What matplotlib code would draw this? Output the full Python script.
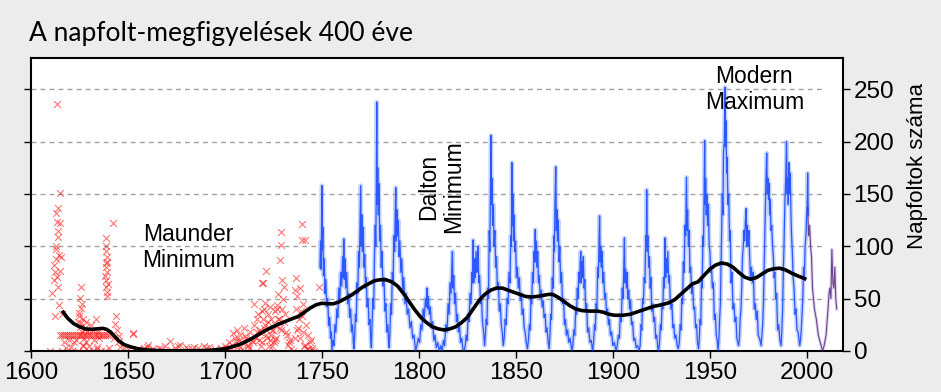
import numpy as np
import matplotlib.pyplot as plt

# ── Colours ─────────────────────────────────────────────────────────────
BG = "#ececec"
RED = "#ff1a1a"
BLUE_CORE = "#1a4cff"
BLUE_HALO = "#7f9dff"
PURPLE = "#5b2d86"
GRID = "#a0a0a0"

early_years = [
    1610, 1611, 1612, 1613, 1613.4, 1613, 1613.5, 1614, 1613, 1614, 1613.5, 1612.5, 1614,
    1614.7, 1615, 1615.1, 1612.5, 1614.5, 1613, 1615.5, 1616, 1612, 1613.8, 1614.2,
    1615, 1616, 1617, 1618, 1619, 1620, 1621, 1622, 1623, 1624, 1625, 1626, 1627,
    1628, 1629, 1630, 1631, 1632, 1633, 1634, 1635, 1636, 1637, 1638, 1639, 1640,
    1616, 1618, 1621, 1624, 1627, 1630, 1632, 1634, 1636, 1638, 1640, 1617, 1619.5,
    1625.6, 1625.2, 1626, 1624.8, 1625.5, 1626.5, 1624, 1627, 1628, 1629, 1623,
    1624.5, 1625.8, 1626.2, 1627.5, 1622, 1620.5, 1628.5, 1626.8,
    1631, 1632, 1633.7, 1634.5, 1635, 1630, 1628.5, 1632.5, 1634,
    1638.8, 1638.5, 1639, 1638.6, 1639.2, 1638.4, 1638.9, 1639.3, 1638.7, 1639.1, 1642.3,
    1638.2, 1639.5, 1638.9, 1639.4,
    1644, 1644.5, 1643, 1645, 1646, 1652.6, 1648, 1650, 1643.5, 1645.5,
    1655, 1658, 1660, 1663, 1666, 1669, 1671.6, 1674, 1677, 1680, 1683, 1686, 1689,
    1692, 1695, 1698, 1652.7, 1660.5, 1676, 1684, 1690, 1657, 1662, 1667, 1672, 1681,
    1700, 1702, 1704, 1705, 1706, 1707, 1708, 1709, 1710, 1711, 1712, 1713, 1714,
    1703, 1706, 1709, 1712, 1715, 1716, 1717, 1718, 1719, 1720, 1721, 1722, 1723,
    1701, 1703.5, 1705.5, 1707.5, 1710.5, 1712.5, 1714.5, 1716.5, 1718.5, 1719.5,
    1715, 1716.5, 1718, 1719.7, 1721, 1720.6, 1718.9, 1720.6, 1722, 1723.5, 1724,
    1720, 1721.5, 1722.5, 1719, 1717.5, 1723, 1724.5, 1725.5,
    1725, 1726, 1726.6, 1727.5, 1728.4, 1728.9, 1728.9, 1729.2, 1730.6, 1730, 1725.8,
    1724.5, 1726, 1727, 1728, 1729, 1731, 1732, 1733, 1734, 1735,
    1726.5, 1727.5, 1728.5, 1729.5, 1730.5, 1731.5, 1732.5, 1733.5,
    1736.6, 1736, 1738.7, 1737, 1739.9, 1739.9, 1741.2, 1738, 1740, 1742, 1743, 1744,
    1736, 1737, 1739, 1741, 1743, 1745, 1746, 1748.6, 1745,
    1736.5, 1737.5, 1738.5, 1739.5, 1740.5, 1741.5, 1742.5, 1744.5,
]
early_vals = [
    0, 55, 82, 97, 236, 132, 123, 109, 100, 61, 71, 75, 137,
    122, 76, 151, 33, 44, 88, 90, 35, 68, 115, 92,
    15, 15, 15, 15, 15, 15, 15, 15, 15, 15, 15, 15, 15,
    15, 15, 15, 15, 15, 15, 15, 15, 15, 15, 15, 15, 15,
    0, 3, 0, 0, 5, 0, 0, 2, 0, 0, 3, 8, 10,
    61, 51, 41, 33, 23, 45, 28, 30, 22, 18, 10,
    36, 27, 18, 12, 8, 4, 28, 6,
    25, 20, 30, 18, 12, 5, 8, 10, 4,
    108, 100, 90, 80, 75, 68, 61, 52, 95, 85, 122,
    72, 64, 84, 56,
    33, 20, 12, 8, 4, 16, 3, 2, 26, 14,
    2, 3, 4, 2, 3, 5, 9, 3, 6, 4, 2, 3, 5,
    4, 2, 3, 17, 6, 5, 4, 3, 1, 1, 2, 1, 2,
    5, 8, 17, 12, 20, 10, 15, 8, 22, 12, 6, 18, 10,
    3, 4, 2, 5, 25, 12, 35, 20, 8, 40, 15, 28, 10,
    2, 6, 9, 4, 14, 3, 8, 18, 5, 30,
    45, 30, 18, 65, 76, 46, 65, 25, 35, 15, 30,
    22, 12, 5, 38, 10, 42, 20, 8,
    20, 38, 44, 54, 87, 114, 101, 68, 61, 50, 10,
    5, 25, 40, 30, 20, 35, 15, 8, 2, 0,
    12, 30, 22, 40, 28, 18, 6, 10,
    70, 58, 60, 52, 121, 106, 106, 30, 45, 25, 15, 8,
    12, 20, 38, 5, 2, 1, 0, 61, 3,
    40, 22, 12, 33, 18, 6, 2, 10,
]

# ── Monthly record from 1749 (blue), one line per cycle ──────────────────
blue_years = [
    1749.0, 1749.3, 1749.6, 1750.0, 1750.2, 1750.5, 1750.8, 1751.2, 1751.6, 1752.0, 1752.5, 1753.0, 1753.5, 1754.0, 1754.5, 1754.9, 1755.2,
    1755.7, 1756.2, 1756.7, 1757.2, 1757.7, 1758.2, 1758.7, 1759.2, 1759.7, 1760.2, 1760.7, 1761.0, 1761.3, 1761.6, 1761.9, 1762.3, 1762.8, 1763.3, 1763.8, 1764.3, 1764.8, 1765.3, 1765.8, 1766.2, 1766.5,
    1766.9, 1767.3, 1767.7, 1768.1, 1768.5, 1768.9, 1769.3, 1769.7, 1770.0, 1770.3, 1770.6, 1770.9, 1771.3, 1771.7, 1772.1, 1772.5, 1772.9, 1773.3, 1773.8, 1774.3, 1774.8, 1775.2, 1775.5,
    1775.9, 1776.3, 1776.7, 1777.1, 1777.5, 1777.8, 1778.1, 1778.3, 1778.5, 1778.8, 1779.1, 1779.4, 1779.8, 1780.2, 1780.6, 1781.0, 1781.5, 1782.0, 1782.5, 1783.0, 1783.5, 1784.0, 1784.4, 1784.7,
    1785.1, 1785.5, 1785.9, 1786.3, 1786.7, 1787.1, 1787.5, 1787.8, 1788.1, 1788.4, 1788.7, 1789.0, 1789.4, 1789.8, 1790.2, 1790.7, 1791.2, 1791.7, 1792.2, 1792.8, 1793.4, 1794.0, 1794.7, 1795.4, 1796.1, 1796.8, 1797.5, 1798.3,
    1799.0, 1799.7, 1800.4, 1801.0, 1801.6, 1802.2, 1802.8, 1803.4, 1803.9, 1804.2, 1804.5, 1804.9, 1805.4, 1805.9, 1806.5, 1807.1, 1807.7, 1808.3, 1809.0, 1809.7, 1810.6,
    1811.3, 1812.0, 1812.7, 1813.3, 1813.9, 1814.5, 1815.1, 1815.6, 1816.1, 1816.6, 1817.0, 1817.3, 1817.6, 1818.0, 1818.4, 1818.9, 1819.4, 1819.9, 1820.4, 1820.9, 1821.5, 1822.1, 1822.7, 1823.3,
    1823.9, 1824.4, 1824.9, 1825.4, 1825.9, 1826.4, 1826.9, 1827.4, 1827.7, 1828.0, 1828.3, 1828.7, 1829.1, 1829.5, 1829.9, 1830.3, 1830.6, 1830.9, 1831.3, 1831.8, 1832.3, 1832.8, 1833.3, 1833.9,
    1834.3, 1834.7, 1835.1, 1835.5, 1835.9, 1836.3, 1836.6, 1836.9, 1837.2, 1837.4, 1837.7, 1838.0, 1838.4, 1838.8, 1839.2, 1839.6, 1840.0, 1840.5, 1841.0, 1841.5, 1842.0, 1842.5, 1843.0, 1843.5,
    1844.0, 1844.5, 1845.0, 1845.5, 1846.0, 1846.5, 1847.0, 1847.4, 1847.7, 1848.0, 1848.2, 1848.5, 1848.8, 1849.1, 1849.5, 1849.9, 1850.3, 1850.8, 1851.3, 1851.8, 1852.3, 1852.8, 1853.3, 1853.8, 1854.3, 1854.8, 1855.4, 1856.0,
    1856.5, 1857.0, 1857.4, 1857.8, 1858.2, 1858.6, 1859.0, 1859.4, 1859.7, 1860.0, 1860.3, 1860.6, 1860.9, 1861.3, 1861.7, 1862.1, 1862.6, 1863.1, 1863.6, 1864.1, 1864.6, 1865.1, 1865.6, 1866.1, 1866.7, 1867.2,
    1867.6, 1868.0, 1868.4, 1868.8, 1869.2, 1869.6, 1869.9, 1870.2, 1870.6, 1870.9, 1871.2, 1871.5, 1871.9, 1872.3, 1872.7, 1873.1, 1873.6, 1874.1, 1874.6, 1875.1, 1875.6, 1876.1, 1876.7, 1877.3, 1878.0, 1878.9,
    1879.4, 1879.9, 1880.4, 1880.9, 1881.3, 1881.7, 1882.1, 1882.5, 1882.9, 1883.2, 1883.5, 1883.8, 1884.1, 1884.5, 1884.8, 1885.2, 1885.6, 1886.0, 1886.5, 1887.0, 1887.6, 1888.2, 1888.9, 1889.6,
    1890.1, 1890.6, 1891.0, 1891.4, 1891.8, 1892.2, 1892.6, 1892.9, 1893.2, 1893.5, 1893.8, 1894.1, 1894.5, 1894.9, 1895.3, 1895.8, 1896.3, 1896.8, 1897.3, 1897.8, 1898.3, 1898.8, 1899.4, 1900.0, 1900.8, 1901.7,
    1902.3, 1902.9, 1903.4, 1903.9, 1904.4, 1904.9, 1905.3, 1905.7, 1906.0, 1906.3, 1906.6, 1907.0, 1907.4, 1907.8, 1908.2, 1908.7, 1909.2, 1909.7, 1910.2, 1910.8, 1911.4, 1912.1, 1912.8, 1913.6,
    1914.1, 1914.6, 1915.0, 1915.4, 1915.8, 1916.2, 1916.6, 1917.0, 1917.3, 1917.5, 1917.8, 1918.1, 1918.5, 1918.9, 1919.3, 1919.7, 1920.1, 1920.6, 1921.1, 1921.6, 1922.1, 1922.7, 1923.2, 1923.6,
    1924.1, 1924.6, 1925.0, 1925.4, 1925.8, 1926.2, 1926.6, 1927.0, 1927.3, 1927.6, 1928.0, 1928.4, 1928.8, 1929.2, 1929.6, 1930.0, 1930.5, 1931.0, 1931.5, 1932.0, 1932.6, 1933.2, 1933.8,
    1934.3, 1934.8, 1935.2, 1935.6, 1936.0, 1936.4, 1936.8, 1937.2, 1937.6, 1938.0, 1938.3, 1938.6, 1939.0, 1939.4, 1939.8, 1940.2, 1940.7, 1941.2, 1941.7, 1942.2, 1942.7, 1943.2, 1943.7, 1944.2,
    1944.6, 1945.0, 1945.4, 1945.8, 1946.1, 1946.5, 1946.8, 1947.1, 1947.4, 1947.6, 1947.9, 1948.2, 1948.5, 1948.9, 1949.3, 1949.7, 1950.1, 1950.5, 1950.9, 1951.4, 1951.9, 1952.4, 1952.9, 1953.4, 1953.9, 1954.3,
    1954.7, 1955.1, 1955.5, 1955.8, 1956.1, 1956.5, 1956.8, 1957.1, 1957.5, 1957.9, 1958.1, 1958.4, 1958.7, 1959.0, 1959.4, 1959.8, 1960.2, 1960.6, 1961.0, 1961.5, 1962.0, 1962.5, 1963.0, 1963.5, 1964.0, 1964.9,
    1965.3, 1965.7, 1966.1, 1966.5, 1966.9, 1967.3, 1967.7, 1968.0, 1968.4, 1968.8, 1969.1, 1969.4, 1969.8, 1970.2, 1970.6, 1971.0, 1971.5, 1972.0, 1972.5, 1973.0, 1973.5, 1974.0, 1974.5, 1975.0, 1975.7, 1976.5,
    1976.9, 1977.3, 1977.7, 1978.1, 1978.4, 1978.7, 1979.0, 1979.4, 1979.7, 1980.0, 1980.3, 1980.6, 1980.9, 1981.2, 1981.6, 1982.0, 1982.4, 1982.8, 1983.2, 1983.6, 1984.0, 1984.5, 1985.0, 1985.6, 1986.2, 1986.8,
    1987.2, 1987.6, 1988.0, 1988.3, 1988.6, 1988.9, 1989.2, 1989.6, 1989.9, 1990.2, 1990.5, 1990.8, 1991.1, 1991.5, 1991.9, 1992.2, 1992.6, 1993.0, 1993.5, 1994.0, 1994.5, 1995.0, 1995.6, 1996.4,
    1996.8, 1997.2, 1997.6, 1998.0, 1998.4, 1998.8, 1999.2, 1999.6, 2000.0, 2000.3, 2000.5, 2000.8,
]
blue_vals = [
    80, 105, 78, 158, 96, 118, 72, 88, 55, 68, 42, 50, 24, 32, 12, 18, 0,
    10, 5, 25, 18, 40, 32, 60, 48, 75, 62, 90, 70, 107, 68, 88, 60, 75, 45, 55, 32, 40, 18, 25, 8, 2,
    15, 35, 28, 65, 55, 95, 80, 125, 158, 100, 130, 95, 118, 80, 92, 60, 70, 42, 50, 25, 30, 10, 3,
    25, 50, 40, 90, 120, 100, 170, 238, 140, 175, 130, 160, 105, 120, 80, 95, 62, 70, 38, 45, 18, 25, 8, 3,
    20, 45, 35, 75, 65, 110, 95, 130, 156, 105, 135, 110, 125, 90, 105, 75, 88, 58, 70, 45, 55, 35, 40, 22, 28, 12, 15, 0,
    5, 12, 8, 25, 20, 40, 32, 50, 42, 60, 40, 52, 35, 42, 22, 28, 10, 15, 3, 8, 0,
    5, 0, 10, 5, 25, 18, 45, 35, 65, 55, 80, 95, 60, 72, 45, 55, 28, 35, 18, 25, 8, 12, 2, 0,
    5, 15, 10, 35, 28, 55, 45, 75, 65, 106, 65, 88, 70, 95, 75, 85, 100, 65, 72, 45, 52, 28, 20, 5,
    15, 30, 25, 60, 50, 115, 95, 150, 206, 140, 165, 120, 140, 100, 115, 80, 90, 60, 65, 38, 45, 25, 18, 5,
    12, 30, 25, 50, 45, 75, 65, 110, 100, 180, 120, 150, 105, 130, 95, 105, 70, 80, 60, 70, 48, 55, 35, 40, 22, 18, 8, 2,
    10, 25, 20, 50, 45, 75, 65, 95, 85, 116, 85, 105, 80, 95, 65, 72, 50, 58, 42, 48, 32, 35, 18, 22, 8, 2,
    15, 35, 30, 70, 60, 110, 95, 140, 176, 115, 135, 105, 125, 85, 100, 65, 75, 45, 50, 25, 30, 15, 20, 8, 12, 0,
    5, 20, 15, 40, 35, 60, 50, 75, 65, 85, 95, 65, 85, 70, 90, 60, 68, 38, 45, 18, 22, 8, 10, 0,
    8, 25, 20, 45, 40, 80, 70, 105, 129, 85, 100, 80, 95, 65, 75, 50, 55, 35, 40, 25, 30, 15, 18, 5, 8, 0,
    5, 15, 12, 35, 28, 60, 50, 80, 108, 65, 78, 60, 75, 50, 58, 40, 48, 25, 28, 10, 12, 3, 5, 0,
    5, 25, 20, 50, 45, 70, 65, 110, 100, 154, 95, 110, 80, 90, 60, 70, 38, 45, 28, 32, 12, 15, 3, 0,
    8, 25, 20, 45, 40, 70, 60, 108, 70, 88, 75, 95, 65, 72, 50, 40, 45, 22, 25, 12, 15, 5, 2,
    8, 25, 20, 50, 45, 85, 75, 120, 110, 166, 115, 135, 100, 115, 75, 80, 55, 62, 40, 42, 22, 25, 8, 2,
    10, 30, 25, 70, 60, 110, 100, 150, 201, 140, 165, 130, 150, 120, 140, 100, 95, 75, 80, 60, 65, 30, 35, 15, 10, 0,
    10, 30, 45, 80, 110, 150, 130, 190, 200, 252, 195, 220, 170, 185, 140, 150, 105, 115, 65, 75, 40, 45, 28, 32, 12, 5,
    12, 30, 40, 60, 90, 100, 115, 105, 125, 136, 100, 120, 100, 115, 90, 70, 80, 65, 75, 40, 45, 30, 38, 15, 12, 5,
    15, 25, 45, 80, 110, 140, 165, 189, 150, 165, 145, 160, 130, 145, 115, 120, 100, 90, 70, 75, 50, 55, 20, 25, 10, 5,
    20, 40, 80, 100, 130, 150, 165, 200, 150, 165, 140, 180, 150, 170, 130, 110, 95, 70, 60, 35, 40, 20, 18, 5,
    10, 20, 35, 50, 80, 70, 100, 110, 130, 140, 170, 130,
]

# ── Recent data (purple) ────────────────────────────────────────────────
recent_years = [2000.5, 2001, 2001.5, 2002, 2002.5, 2003, 2004, 2005, 2006, 2007, 2008.2,
                2009, 2010, 2011, 2011.5, 2012, 2012.5, 2013, 2013.5, 2014, 2014.5, 2015, 2015.5]
recent_vals = [137, 110, 120, 100, 90, 60, 40, 30, 15, 8, 0,
               5, 15, 40, 55, 60, 50, 97, 65, 60, 80, 50, 40]

# ── Smoothed long-term average (black) ──────────────────────────────────
smooth_years = [1616.6, 1619, 1622, 1625, 1628, 1631, 1634, 1637, 1639, 1641, 1643,
                1645, 1648, 1651, 1655, 1660, 1665, 1670, 1680, 1690, 1695, 1700,
                1704, 1708, 1711, 1715, 1719, 1723, 1727, 1731, 1735, 1738, 1741,
                1744, 1747, 1750, 1753, 1756, 1759, 1762, 1765, 1768, 1771, 1774,
                1777, 1780, 1783, 1786, 1789, 1792, 1795, 1798, 1801, 1804, 1807,
                1810, 1813, 1816, 1819, 1822, 1825, 1828, 1831, 1834, 1837, 1840,
                1843, 1846, 1849, 1852, 1855, 1858, 1861, 1864, 1867, 1869, 1872,
                1875, 1878, 1881, 1884, 1888, 1892, 1895, 1898, 1901, 1905, 1909,
                1913, 1917, 1921, 1925, 1929, 1932, 1935, 1938, 1941, 1944, 1947,
                1950, 1953, 1956, 1959, 1962, 1965, 1968, 1971, 1974, 1977, 1980,
                1983, 1986, 1989, 1992, 1995, 1999]
smooth_vals = [37, 31, 26, 23, 21, 20.5, 21, 21.5, 20.5, 18, 14,
               10, 6, 4, 2, 0.8, 0.3, 0, 0, 0.3, 1, 2,
               4, 6.5, 9, 13, 17.5, 21.5, 25, 28, 31, 33, 37,
               41, 44, 45.5, 45, 45, 47, 50, 53, 57, 61, 64,
               67, 68, 68, 66, 62, 55, 47, 39, 32, 27, 23,
               21, 20, 21, 23, 27, 32, 40, 48, 54, 58, 60,
               60, 58, 56, 54, 52, 51.5, 52, 53, 54, 54, 51,
               47, 43, 40, 38.5, 38, 38, 37, 35, 34, 34, 35,
               37.5, 40, 42.5, 44, 46, 49, 54, 59, 64, 66, 72,
               78, 82, 84, 83, 80, 75, 70.5, 68.5, 70, 73.5, 77,
               78.5, 79, 77.5, 74.5, 72, 69]

y_ticks = [0, 50, 100, 150, 200, 250]
x_ticks = [1600, 1650, 1700, 1750, 1800, 1850, 1900, 1950, 2000]

# ── Figure ──────────────────────────────────────────────────────────────
plt.rcParams["font.family"] = ["Liberation Sans", "DejaVu Sans"]
fig = plt.figure(figsize=(9.41, 3.92), dpi=100, facecolor=BG)
ax = fig.add_axes([0.033, 0.105, 0.863, 0.747])
ax.set_facecolor("white")

ax.hlines(y_ticks[1:], 1600, 2008, colors=GRID, linestyles=(0, (3.5, 3)),
          linewidth=1.0, zorder=1)

ax.scatter(early_years, early_vals, marker="x", s=24, color=RED,
           linewidths=0.8, alpha=0.6, zorder=2)

ax.plot(blue_years, blue_vals, color=BLUE_HALO, lw=3.2, alpha=0.45, zorder=2)
ax.plot(blue_years, blue_vals, color=BLUE_CORE, lw=0.9, alpha=0.9, zorder=3)
ax.plot(recent_years, recent_vals, color="#b9a3d6", lw=2.2, alpha=0.5, zorder=2)
ax.plot(recent_years, recent_vals, color=PURPLE, lw=0.8, alpha=0.85, zorder=3)

ax.plot(smooth_years, smooth_vals, color="black", lw=2.6, zorder=4)

ax.set_xlim(1600, 2018.8)
ax.set_ylim(0, 280)
ax.set_xticks(x_ticks)
ax.set_yticks(y_ticks)
ax.tick_params(axis="x", labelsize=17.5, length=5, width=1, pad=3)
ax.tick_params(axis="y", left=True, right=True, labelleft=False,
               labelright=True, labelsize=17.5, length=5, width=1, pad=2.5)
for s in ax.spines.values():
    s.set_linewidth(1.5)
    s.set_color("black")
ax.yaxis.set_label_position("right")
ax.set_ylabel("Napfoltok száma", fontsize=16, va="center", ha="center")
ax.yaxis.set_label_coords(1.092, 0.63)

ax.text(1681, 99, "Maunder\nMinimum", ha="center", va="center",
        fontsize=16.5, linespacing=1.2, zorder=5)
ax.text(1811.5, 157, "Dalton\nMinimum", ha="center", va="center",
        fontsize=16.5, rotation=90, linespacing=1.15, zorder=5)
ax.text(1973, 250, "Modern\nMaximum", ha="center", va="center",
        fontsize=16.5, linespacing=1.15, zorder=5)

fig.text(0.031, 0.895, "A napfolt-megfigyelések 400 éve", ha="left",
         va="baseline", fontsize=19, family=["Lato", "DejaVu Sans"])

fig.savefig("out.png", dpi=100, facecolor=BG)
